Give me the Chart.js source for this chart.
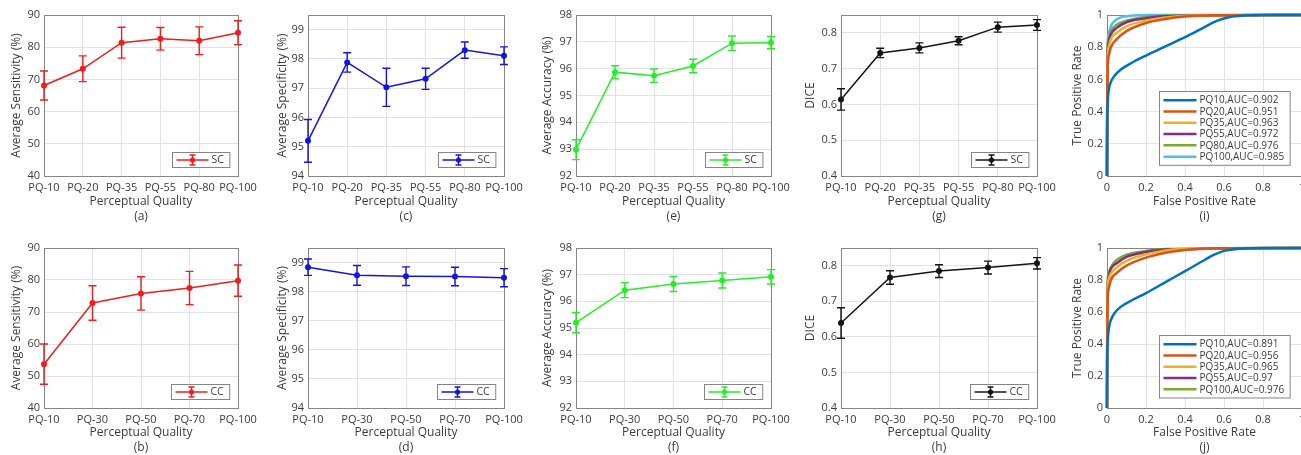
<!DOCTYPE html>
<html>
<head>
<meta charset="utf-8">
<title>Perceptual quality results</title>
<script src="https://cdn.jsdelivr.net/npm/chart.js@4.4.1/dist/chart.umd.min.js"></script>
<style>
  html, body { margin: 0; padding: 0; background: #fff; overflow: hidden; }
  body { width: 1301px; height: 455px; position: relative; }
  canvas { position: absolute; }
</style>
</head>
<body>
<script>
// quality levels on the x axis
const scLevels = ['PQ-10', 'PQ-20', 'PQ-35', 'PQ-55', 'PQ-80', 'PQ-100'];
const ccLevels = ['PQ-10', 'PQ-30', 'PQ-50', 'PQ-70', 'PQ-100'];

// mean values and error half-widths
const scSensitivity = [68.1, 73.3, 81.4, 82.6, 82.0, 84.5];
const scSensitivityErr = [4.5, 4.0, 4.8, 3.5, 4.3, 3.7];
const ccSensitivity = [53.7, 72.8, 75.8, 77.5, 79.8];
const ccSensitivityErr = [6.3, 5.4, 5.2, 5.2, 4.9];

const scSpecificity = [95.2, 97.88, 97.03, 97.32, 98.3, 98.11];
const scSpecificityErr = [0.73, 0.33, 0.65, 0.36, 0.28, 0.3];
const ccSpecificity = [98.84, 98.56, 98.53, 98.52, 98.48];
const ccSpecificityErr = [0.28, 0.34, 0.32, 0.32, 0.31];

const scAccuracy = [92.98, 95.87, 95.74, 96.1, 96.95, 96.97];
const scAccuracyErr = [0.37, 0.24, 0.25, 0.25, 0.27, 0.23];
const ccAccuracy = [95.2, 96.42, 96.65, 96.78, 96.92];
const ccAccuracyErr = [0.38, 0.28, 0.28, 0.28, 0.27];

const scDice = [0.614, 0.744, 0.758, 0.778, 0.816, 0.822];
const scDiceErr = [0.03, 0.013, 0.014, 0.011, 0.014, 0.015];
const ccDice = [0.639, 0.767, 0.785, 0.795, 0.807];
const ccDiceErr = [0.043, 0.019, 0.018, 0.018, 0.016];

// tick values
const sensTicks = [40, 50, 60, 70, 80, 90];
const specTicks = [94, 95, 96, 97, 98, 99];
const accTicks = [92, 93, 94, 95, 96, 97, 98];
const diceTicks = [0.4, 0.5, 0.6, 0.7, 0.8];
const rateTicks = [0, 0.2, 0.4, 0.6, 0.8, 1];

// ROC curves, [false positive rate, true positive rate]
const rocScPQ10 = [[0,0],[0.001,0.3],[0.004,0.46],[0.01,0.54],[0.02,0.585],[0.04,0.625],[0.07,0.66],[0.13,0.705],[0.2,0.748],[0.3,0.805],[0.4,0.862],[0.5,0.925],[0.56,0.962],[0.62,0.985],[0.7,0.997],[0.8,1],[1,1]];
const rocScPQ20 = [[0,0],[0.002,0.6],[0.008,0.74],[0.02,0.8],[0.05,0.85],[0.1,0.9],[0.2,0.95],[0.3,0.975],[0.4,0.99],[0.55,0.998],[1,1]];
const rocScPQ35 = [[0,0],[0.002,0.65],[0.008,0.8],[0.02,0.85],[0.05,0.89],[0.1,0.93],[0.2,0.965],[0.3,0.985],[0.45,0.997],[1,1]];
const rocScPQ55 = [[0,0],[0.002,0.7],[0.008,0.83],[0.02,0.88],[0.05,0.92],[0.1,0.955],[0.2,0.98],[0.3,0.992],[1,1]];
const rocScPQ80 = [[0,0],[0.002,0.72],[0.008,0.85],[0.02,0.9],[0.05,0.94],[0.1,0.965],[0.2,0.988],[0.3,0.996],[1,1]];
const rocScPQ100 = [[0,0],[0.002,0.75],[0.008,0.88],[0.02,0.93],[0.04,0.965],[0.07,0.985],[0.12,0.995],[0.2,1],[1,1]];
const rocScLabels = ['PQ10,AUC=0.902', 'PQ20,AUC=0.951', 'PQ35,AUC=0.963', 'PQ55,AUC=0.972', 'PQ80,AUC=0.976', 'PQ100,AUC=0.985'];

const rocCcPQ10 = [[0,0],[0.001,0.28],[0.004,0.42],[0.01,0.5],[0.02,0.55],[0.04,0.595],[0.07,0.632],[0.13,0.675],[0.2,0.718],[0.3,0.787],[0.4,0.855],[0.5,0.925],[0.55,0.958],[0.6,0.982],[0.68,0.996],[0.8,1],[1,1]];
const rocCcPQ20 = [[0,0],[0.002,0.6],[0.008,0.74],[0.02,0.8],[0.05,0.845],[0.1,0.89],[0.2,0.94],[0.3,0.97],[0.4,0.988],[0.55,0.998],[1,1]];
const rocCcPQ35 = [[0,0],[0.002,0.65],[0.008,0.8],[0.02,0.84],[0.05,0.88],[0.1,0.92],[0.2,0.96],[0.3,0.985],[0.45,0.997],[1,1]];
const rocCcPQ55 = [[0,0],[0.002,0.68],[0.008,0.82],[0.02,0.87],[0.05,0.905],[0.1,0.945],[0.2,0.975],[0.3,0.99],[1,1]];
const rocCcPQ100 = [[0,0],[0.002,0.7],[0.008,0.84],[0.02,0.88],[0.05,0.925],[0.1,0.958],[0.2,0.982],[0.3,0.993],[1,1]];
const rocCcLabels = ['PQ10,AUC=0.891', 'PQ20,AUC=0.956', 'PQ35,AUC=0.965', 'PQ55,AUC=0.97', 'PQ100,AUC=0.976'];

const rocColors = ['#0072BD', '#D95319', '#EDB120', '#7E2F8E', '#77AC30', '#4DBEEE'];

const FONT = "'Open Sans', 'Noto Sans', sans-serif";
const TEXT = '#3c3c3c';
const GRID = '#e2e2e2';
const FRAME = '#858585';

// box around the plot area
const frame = {
    id: 'frame',
    beforeDatasetsDraw(chart) {
        const a = chart.chartArea, ctx = chart.ctx;
        ctx.save();
        ctx.strokeStyle = FRAME;
        ctx.lineWidth = 1;
        ctx.strokeRect(Math.round(a.left) + 0.5, Math.round(a.top) + 0.5,
            Math.round(a.right - a.left), Math.round(a.bottom - a.top));
        ctx.restore();
    }
};

// vertical error bars with caps, taken from dataset.errors
const errorBars = {
    id: 'errorBars',
    afterDatasetsDraw(chart) {
        const ctx = chart.ctx, y = chart.scales.y;
        chart.data.datasets.forEach((ds, i) => {
            if (!ds.errors) return;
            const meta = chart.getDatasetMeta(i);
            ctx.save();
            ctx.strokeStyle = ds.borderColor;
            ctx.lineWidth = 1.4;
            meta.data.forEach((pt, j) => {
                const top = y.getPixelForValue(ds.data[j] + ds.errors[j]);
                const bot = y.getPixelForValue(ds.data[j] - ds.errors[j]);
                ctx.beginPath();
                ctx.moveTo(pt.x, top); ctx.lineTo(pt.x, bot);
                ctx.moveTo(pt.x - 4, top); ctx.lineTo(pt.x + 4, top);
                ctx.moveTo(pt.x - 4, bot); ctx.lineTo(pt.x + 4, bot);
                ctx.stroke();
            });
            ctx.restore();
        });
    }
};

// boxed legend in the lower right corner of the plot
const boxLegend = {
    id: 'boxLegend',
    afterDraw(chart, args, opts) {
        const ctx = chart.ctx, a = chart.chartArea;
        const items = chart.data.datasets;
        ctx.save();
        ctx.font = opts.fontSize + 'px ' + FONT;
        const textW = Math.max(...items.map(d => ctx.measureText(d.label).width));
        const w = opts.sample + 8 + textW + 5;
        const h = items.length * opts.row + opts.pad;
        const left = Math.round(a.right - opts.right - w) + 0.5;
        const top = Math.round(a.bottom - opts.bottom - h) + 0.5;
        ctx.fillStyle = '#fff';
        ctx.fillRect(left, top, w, h);
        ctx.strokeStyle = FRAME;
        ctx.lineWidth = 1;
        ctx.strokeRect(left, top, w, h);
        items.forEach((d, i) => {
            const cy = top + opts.pad / 2 + opts.row * (i + 0.5);
            const x0 = left + 4, x1 = x0 + opts.sample;
            ctx.strokeStyle = d.borderColor;
            ctx.lineWidth = d.borderWidth;
            ctx.beginPath();
            ctx.moveTo(x0, cy); ctx.lineTo(x1, cy);
            ctx.stroke();
            if (d.errors) {
                const cx = (x0 + x1) / 2;
                ctx.lineWidth = 1.4;
                ctx.beginPath();
                ctx.moveTo(cx, cy - 5); ctx.lineTo(cx, cy + 5);
                ctx.moveTo(cx - 3, cy - 5); ctx.lineTo(cx + 3, cy - 5);
                ctx.moveTo(cx - 3, cy + 5); ctx.lineTo(cx + 3, cy + 5);
                ctx.stroke();
                ctx.fillStyle = d.borderColor;
                ctx.beginPath();
                ctx.arc(cx, cy, 2.6, 0, Math.PI * 2);
                ctx.fill();
            }
            ctx.fillStyle = TEXT;
            ctx.textBaseline = 'middle';
            ctx.fillText(d.label, x1 + 3, cy + 0.5);
        });
        ctx.restore();
    }
};

function axisTicks(values) {
    return scale => { scale.ticks = values.map(v => ({ value: v })); };
}

function makePanel(p) {
    const rowTop = p.row === 1 ? 0 : 225;
    const rowBottom = p.row === 1 ? 225 : 455;
    const canvasLeft = p.titleX - 10;
    const canvasRight = p.plot.r + 34;
    const canvas = document.createElement('canvas');
    canvas.width = canvasRight - canvasLeft;
    canvas.height = rowBottom - rowTop;
    canvas.style.left = canvasLeft + 'px';
    canvas.style.top = rowTop + 'px';
    document.body.appendChild(canvas);

    const yWidth = p.plot.l - canvasLeft;
    const xHeight = rowBottom - p.plot.b;
    const tickFont = { family: FONT, size: 11 };
    const titleFont = { family: FONT, size: 12, lineHeight: 1.25 };

    const x = p.roc ? {
        type: 'linear', min: 0, max: 1,
        afterBuildTicks: axisTicks(rateTicks),
        ticks: { font: tickFont, color: TEXT, padding: 5, maxRotation: 0, callback: v => String(v) }
    } : {
        type: 'category', offset: false,
        ticks: { font: tickFont, color: TEXT, padding: 5, maxRotation: 0, autoSkip: false }
    };
    Object.assign(x, {
        grid: { color: GRID, drawTicks: false },
        border: { display: false },
        title: { display: true, text: [p.xTitle, p.letter], font: titleFont, color: TEXT,
                 padding: { top: 0, bottom: p.row === 1 ? 1 : 0 } },
        afterFit: s => { s.height = xHeight; }
    });

    const y = {
        type: 'linear', min: p.yMin, max: p.yMax,
        afterBuildTicks: axisTicks(p.yTicks),
        grid: { color: GRID, drawTicks: false },
        border: { display: false },
        ticks: { font: tickFont, color: TEXT, padding: 4, callback: v => String(v) },
        title: { display: true, text: p.yTitle, font: { family: FONT, size: 12, lineHeight: 1.2 },
                 color: TEXT, padding: { top: 3, bottom: 0 } },
        afterFit: s => { s.width = yWidth; }
    };

    const legendOpts = p.roc
        ? { sample: 33, row: 11.3, pad: 6, fontSize: 10, right: 12, bottom: 11 }
        : { sample: 32, row: 13, pad: 2, fontSize: 10.5, right: 9, bottom: 9 };

    new Chart(canvas, {
        type: 'line',
        data: p.roc ? { datasets: p.datasets } : { labels: p.labels, datasets: p.datasets },
        options: {
            responsive: false,
            animation: false,
            events: [],
            layout: {
                autoPadding: false,
                padding: { top: p.plot.t - rowTop, right: canvasRight - p.plot.r, left: 0, bottom: 0 }
            },
            scales: { x, y },
            plugins: {
                legend: { display: false },
                tooltip: { enabled: false },
                boxLegend: legendOpts
            }
        },
        plugins: [frame, errorBars, boxLegend]
    });
}

function seriesSet(label, values, errors, color) {
    return [{
        label: label,
        data: values,
        errors: errors,
        borderColor: color,
        backgroundColor: color,
        borderWidth: 1.5,
        pointRadius: 3,
        pointBorderWidth: 0,
        pointBackgroundColor: color,
        tension: 0,
        clip: false
    }];
}

// CC panel has no PQ80 curve, so its last curve takes the PQ80 colour
function rocSet(curves, labels) {
    return curves.map((pts, i) => ({
        label: labels[i],
        data: pts.map(([fx, ty]) => ({ x: fx, y: ty })),
        borderColor: rocColors[i === curves.length - 1 && curves.length === 5 ? 4 : i],
        borderWidth: 2.5,
        pointRadius: 0,
        cubicInterpolationMode: 'monotone',
        clip: false
    }));
}

const RED = '#f21c1c', BLUE = '#1414e0', GREEN = '#26ee26', BLACK = '#141414';
const PQ = 'Perceptual Quality';

const panels = [
    { row: 1, letter: '(a)', titleX: 16, plot: { l: 44, t: 15, r: 238, b: 176 },
      labels: scLevels, datasets: seriesSet('SC', scSensitivity, scSensitivityErr, RED),
      yMin: 40, yMax: 90, yTicks: sensTicks, yTitle: 'Average Sensitivity (%)', xTitle: PQ },
    { row: 1, letter: '(c)', titleX: 282, plot: { l: 308, t: 15, r: 504, b: 176 },
      labels: scLevels, datasets: seriesSet('SC', scSpecificity, scSpecificityErr, BLUE),
      yMin: 94, yMax: 99.5, yTicks: specTicks, yTitle: 'Average Specificity (%)', xTitle: PQ },
    { row: 1, letter: '(e)', titleX: 547, plot: { l: 576, t: 15, r: 771, b: 176 },
      labels: scLevels, datasets: seriesSet('SC', scAccuracy, scAccuracyErr, GREEN),
      yMin: 92, yMax: 98, yTicks: accTicks, yTitle: 'Average Accuracy (%)', xTitle: PQ },
    { row: 1, letter: '(g)', titleX: 810, plot: { l: 841, t: 15, r: 1037, b: 176 },
      labels: scLevels, datasets: seriesSet('SC', scDice, scDiceErr, BLACK),
      yMin: 0.4, yMax: 0.85, yTicks: diceTicks, yTitle: 'DICE', xTitle: PQ },
    { row: 1, letter: '(i)', titleX: 1077, plot: { l: 1107, t: 15, r: 1302, b: 176 }, roc: true,
      datasets: rocSet([rocScPQ10, rocScPQ20, rocScPQ35, rocScPQ55, rocScPQ80, rocScPQ100], rocScLabels),
      yMin: 0, yMax: 1, yTicks: rateTicks, yTitle: 'True Positive Rate', xTitle: 'False Positive Rate' },

    { row: 2, letter: '(b)', titleX: 16, plot: { l: 44, t: 248, r: 238, b: 408 },
      labels: ccLevels, datasets: seriesSet('CC', ccSensitivity, ccSensitivityErr, RED),
      yMin: 40, yMax: 90, yTicks: sensTicks, yTitle: 'Average Sensitivity (%)', xTitle: PQ },
    { row: 2, letter: '(d)', titleX: 282, plot: { l: 308, t: 248, r: 504, b: 408 },
      labels: ccLevels, datasets: seriesSet('CC', ccSpecificity, ccSpecificityErr, BLUE),
      yMin: 94, yMax: 99.5, yTicks: specTicks, yTitle: 'Average Specificity (%)', xTitle: PQ },
    { row: 2, letter: '(f)', titleX: 547, plot: { l: 576, t: 248, r: 771, b: 408 },
      labels: ccLevels, datasets: seriesSet('CC', ccAccuracy, ccAccuracyErr, GREEN),
      yMin: 92, yMax: 98, yTicks: accTicks, yTitle: 'Average Accuracy (%)', xTitle: PQ },
    { row: 2, letter: '(h)', titleX: 810, plot: { l: 841, t: 248, r: 1037, b: 408 },
      labels: ccLevels, datasets: seriesSet('CC', ccDice, ccDiceErr, BLACK),
      yMin: 0.4, yMax: 0.85, yTicks: diceTicks, yTitle: 'DICE', xTitle: PQ },
    { row: 2, letter: '(j)', titleX: 1077, plot: { l: 1107, t: 248, r: 1302, b: 408 }, roc: true,
      datasets: rocSet([rocCcPQ10, rocCcPQ20, rocCcPQ35, rocCcPQ55, rocCcPQ100], rocCcLabels),
      yMin: 0, yMax: 1, yTicks: rateTicks, yTitle: 'True Positive Rate', xTitle: 'False Positive Rate' }
];

panels.forEach(makePanel);
</script>
</body>
</html>
